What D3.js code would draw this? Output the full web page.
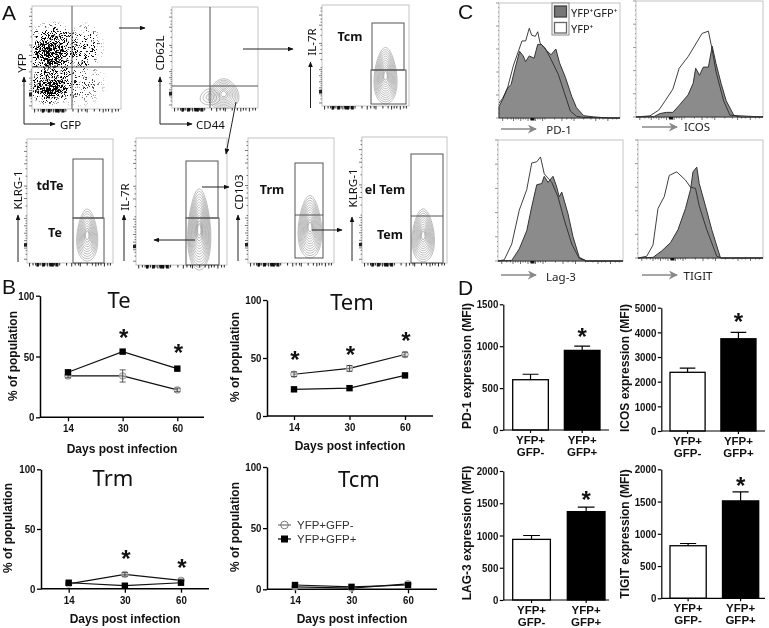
<!DOCTYPE html>
<html><head><meta charset="utf-8">
<script src="https://cdn.jsdelivr.net/npm/d3@7/dist/d3.min.js"></script>
<style>html,body{margin:0;padding:0;background:#fff}svg{display:block;filter:blur(0.35px)}</style>
</head><body><div id="c"></div>
<script>
// ---------- data ----------
const days = ["14","30","60"];
const groupsB = ["YFP+GFP-","YFP+GFP+"];
const teNeg=[34,34,22.5], tePos=[37,54,40], teNegErr=[1.5,5,1.5], tePosErr=[1,1,1], teStars=[[ "30",68],["60",55]];
const temNeg=[36,41,53], temPos=[23,24,35], temNegErr=[2,2.5,2], temPosErr=[1,1,1], temStars=[["14",51],["30",55],["60",67]];
const trmNeg=[4,12,7], trmPos=[5,2.5,5], trmNegErr=[1,1.5,1], trmPosErr=[1,1,1], trmStars=[["30",27],["60",20]];
const tcmNeg=[2,1,4.5], tcmPos=[3.5,2,3.5], tcmNegErr=[.5,.5,.5], tcmPosErr=[.5,.5,.5];
const barCats=["neg","pos"];
const pd1Vals=[600,950], pd1Err=[665,1000], pd1Star=1142;
const icosVals=[2380,3740], icosErr=[2550,4000], icosStar=4530;
const lag3Vals=[940,1370], lag3Err=[1000,1440], lag3Star=1602;
const tigitVals=[815,1510], tigitErr=[850,1650], tigitStar=1792;
const pd1Filled=[[0,10],[3,16],[7,26],[10,29],[13,42],[17,58],[20,54],[22,49],[25,54],[29,52],[32,64],[35,64],[39,59],[43,55],[47,60],[50,48],[55,35],[60,19],[64,9],[70,2],[78,1],[90,0],[100,0]];
const pd1Open=[[0,13],[3,17],[7,26],[12,46],[16,58],[19,67],[22,67],[25,78],[27,72],[30,71],[32,75],[34,65],[38,61],[43,51],[49,38],[54,22],[59,6],[64,1.5],[70,.5],[100,0]];
const icosFilled=[[0,0],[14,.3],[19,3],[24,4],[29,4],[34,10],[41,19],[45,29],[47,42],[50,36],[53,43],[57,43],[60,61],[63,46],[67,29],[71,14],[77,1.5],[82,0],[100,0]];
const icosOpen=[[0,0],[11,1],[18,6],[23,14],[29,24],[34,42],[41,52],[46,61],[52,72],[57,74],[60,58],[63,39],[69,14],[74,1.5],[100,0]];
const lagFilled=[[0,0],[11,.5],[17,10],[23,25],[27,45],[31,63],[35,64],[37,70],[40,65],[44,70],[47,61],[49,53],[51,57],[56,39],[60,20],[65,3],[71,0],[100,0]];
const lagOpen=[[0,0],[5,1],[11,14],[17,42],[23,59],[27,81],[31,82],[34,86],[37,72],[43,65],[48,53],[53,34],[59,14],[65,2],[71,0],[100,0]];
const tigitFilled=[[0,0],[12,.5],[19,6],[26,13],[32,24],[38,42],[42,58],[44,73],[47,77],[49,63],[54,44],[59,24],[66,0],[100,0]];
const tigitOpen=[[0,0],[7,1.5],[12,11],[16,42],[21,52],[25,70],[31,73],[38,66],[42,60],[46,59],[49,44],[55,24],[63,1.5],[67,0],[100,0]];
// flow: population centres in % of each axis [cx, cy, rx, ry, levels]
const cd44Pop=[[60,14,17.5,15,9],[44,11,11,8,3]];
const tcmPop=[[73,30,13,28,12]];
const tePop=[[70,22.5,12,21,10]];
const il7Pop=[[69.5,28,12.5,32,14]];
const trmPop=[[72,29,13.5,25,12]];
const emPop=[[72,22,13,21,11]];
const dotClouds=[[22,56,34,30,.62],[20,54,18,17,.5],[20,21,26,18,.72],[22,20,14,10,.5],[60,60,22,25,.3],[52,25,34,25,.2]];
const tickFracs=[.03,.07,.1,.12,.14,.16,.18,.2,.22,.24,.26,.28,.3,.32,.34,.36,.38,.46,.52,.56,.6,.62,.7,.76,.8,.83,.86,.9,.94,.97];
const tickBlocks=[.11,.18,.26,.33];
// ---------- layout ----------
const W=769,H=628;
const svg=d3.select("#c").append("svg").attr("width",W).attr("height",H).attr("viewBox",`0 0 ${W} ${H}`);
const defs=svg.append("defs");
const sansB="'Liberation Sans',Arial,sans-serif", note="'Noto Sans',sans-serif";
const mk=defs.append("marker").attr("id","ah").attr("viewBox","0 0 10 10").attr("refX",9).attr("refY",5).attr("markerWidth",6).attr("markerHeight",5).attr("markerUnits","userSpaceOnUse").attr("preserveAspectRatio","none").attr("orient","auto");
mk.append("path").attr("d","M0,0L10,5L0,10Z").attr("fill","#111");
const mg=defs.append("marker").attr("id","ag").attr("viewBox","0 0 10 10").attr("refX",9).attr("refY",5).attr("markerWidth",9).attr("markerHeight",9).attr("markerUnits","userSpaceOnUse").attr("orient","auto");
mg.append("path").attr("d","M0,0L10,5L0,10L3,5Z").attr("fill","#888");
const rg=defs.append("radialGradient").attr("id","cloud");
rg.append("stop").attr("offset","0%").attr("stop-color","#000").attr("stop-opacity",1);
rg.append("stop").attr("offset","50%").attr("stop-color","#000").attr("stop-opacity",.7);
rg.append("stop").attr("offset","100%").attr("stop-color","#000").attr("stop-opacity",0);
const sp=defs.append("filter").attr("id","speck").attr("x","0").attr("y","0").attr("width","1").attr("height","1").attr("color-interpolation-filters","sRGB");
sp.append("feTurbulence").attr("type","fractalNoise").attr("baseFrequency",1.9).attr("numOctaves",1).attr("seed",4).attr("result","n");
sp.append("feColorMatrix").attr("in","n").attr("type","matrix").attr("values","0 0 0 0 0 0 0 0 0 0 0 0 0 0 0 3.5 0 0 0 -1.25").attr("result","m");
sp.append("feComposite").attr("in","SourceAlpha").attr("in2","m").attr("operator","arithmetic").attr("k1",0).attr("k2",1).attr("k3",1).attr("k4",-1).attr("result","s");
sp.append("feColorMatrix").attr("in","s").attr("type","matrix").attr("values","0 0 0 0 0 0 0 0 0 0 0 0 0 0 0 0 0 0 5 0");
function txt(x,y,s,o={}){const t=svg.append("text").attr("x",x).attr("y",y).attr("dominant-baseline","central").attr("text-anchor",o.a||"middle").attr("font-family",o.f||note).attr("font-size",o.s||12).attr("font-weight",o.w||"normal").attr("fill",o.c||"#111").text(s);if(o.r)t.attr("transform",`rotate(-90 ${x} ${y})`);return t;}
function arrow(pts,gray){svg.append("path").attr("d",d3.line()(pts)).attr("fill","none").attr("stroke",gray?"#888":"#222").attr("stroke-width",gray?1.4:1).attr("marker-end",`url(#${gray?"ag":"ah"})`);}
[["A",2,12],["B",2,286],["C",458,11],["D",458,287]].forEach(d=>txt(d[1],d[2],d[0],{a:"start",f:sansB,s:21}));
// ---------- A: flow plots ----------
const flow=[
 {box:[32,121,6,109],gv:[72],gh:[67],rects:[]},
 {box:[172,258,7,108],gv:[210],gh:[86],rects:[],pop:cd44Pop},
 {box:[322,409,5,106],rects:[[372,404,23,70],[371,406,70,104]],pop:tcmPop},
 {box:[27,113,139,263],rects:[[73,103,159,218],[73,104,218,263]],pop:tePop},
 {box:[136,227,138,265],rects:[[186,218,161,218],[186,219,218,265]],pop:il7Pop},
 {box:[248,334,138,263],rects:[[295,323,163,258]],gDiv:[295,323,215],pop:trmPop},
 {box:[362,447,137,263],rects:[[411,443,154,263]],gDiv:[411,443,216],pop:emPop}
];
const eggLine=d3.line().curve(d3.curveCardinalClosed.tension(.3));
flow.forEach((p,pi)=>{
 const [x0,x1,y0,y1]=p.box;
 const sx=d3.scaleLinear([0,100],[x0,x1]), sy=d3.scaleLinear([0,100],[y1,y0]);
 const g=svg.append("g");
 g.append("rect").attr("x",x0).attr("y",y0).attr("width",x1-x0).attr("height",y1-y0).attr("fill","#fff").attr("stroke","#c4c4c4").attr("stroke-width",1);
 if(pi===0){
  defs.append("clipPath").attr("id","fc").append("rect").attr("x",x0+1).attr("y",y0+1).attr("width",x1-x0-2).attr("height",y1-y0-2);
  const cg=g.append("g").attr("clip-path","url(#fc)").append("g").attr("filter","url(#speck)");
  dotClouds.forEach(c=>cg.append("ellipse").attr("cx",sx(c[0])).attr("cy",sy(c[1])).attr("rx",sx(c[2])-sx(0)).attr("ry",sy(0)-sy(c[3])).attr("fill","url(#cloud)").attr("opacity",c[4]));
 }
 (p.pop||[]).forEach(c=>{
  for(let i=0;i<c[4];i++){
   const k=1-(i/c[4])*.92;
   const pts=d3.range(0,24).map(j=>{const a=j/24*2*Math.PI;const s=Math.sin(a);
     return [sx(c[0]+c[2]*k*Math.cos(a)*(1-.22*s)),sy(c[1]+c[3]*k*s)];});
   g.append("path").attr("d",eggLine(pts)).attr("fill","none").attr("stroke",i>c[4]*.75?"#888":"#a0a0a0").attr("stroke-width",.7);
  }
 });
 (p.gv||[]).forEach(x=>g.append("line").attr("x1",x).attr("x2",x).attr("y1",y0).attr("y2",y1).attr("stroke","#555").attr("stroke-width",1));
 (p.gh||[]).forEach(y=>g.append("line").attr("x1",x0).attr("x2",x1).attr("y1",y).attr("y2",y).attr("stroke","#555").attr("stroke-width",1));
 p.rects.forEach(r=>g.append("rect").attr("x",r[0]).attr("y",r[2]).attr("width",r[1]-r[0]).attr("height",r[3]-r[2]).attr("fill","none").attr("stroke","#555").attr("stroke-width",1));
 if(p.gDiv)g.append("line").attr("x1",p.gDiv[0]).attr("x2",p.gDiv[1]).attr("y1",p.gDiv[2]).attr("y2",p.gDiv[2]).attr("stroke","#555");
 tickFracs.forEach((f,i)=>{
  const major=i%3===0;
  g.append("line").attr("x1",sx(f*100)).attr("x2",sx(f*100)).attr("y1",y1).attr("y2",y1+(major?3.5:2.5)).attr("stroke","#111").attr("stroke-width",.9);
  g.append("line").attr("y1",sy(f*100)).attr("y2",sy(f*100)).attr("x1",x0).attr("x2",x0-(major?3:1.5)).attr("stroke","#444").attr("stroke-width",.7);
 });
 tickBlocks.forEach(f=>g.append("rect").attr("x",sx(f*100)).attr("y",y1).attr("width",f===.26?4.5:2.5).attr("height",3.5).attr("fill","#111"));
 g.append("rect").attr("x",x0-3).attr("y",sy(16)).attr("width",3).attr("height",3.5).attr("fill","#222");
});
const fs=11.5;
arrow([[24,124],[24,77]]);arrow([[24,124],[55,124]]);
txt(21,63,"YFP",{r:1,s:fs});txt(60,124,"GFP",{a:"start",s:fs});
arrow([[160,124],[160,77]]);arrow([[160,124],[192,124]]);
txt(159,53,"CD62L",{r:1,s:fs});txt(196,124,"CD44",{a:"start",s:fs});
arrow([[310.5,108],[310.5,62]]);txt(311,42,"IL-7R",{r:1,s:fs});
arrow([[18,262],[18,215]]);txt(17,190,"KLRG-1",{r:1,s:fs});
arrow([[124,261],[124,215]]);txt(124,197,"IL-7R",{r:1,s:fs});
arrow([[238,261],[238,215]]);txt(238,192,"CD103",{r:1,s:fs});
arrow([[352,261],[352,217]]);txt(352,188,"KLRG-1",{r:1,s:fs});
arrow([[119,28],[145,28]]);arrow([[243,49],[293,49]]);arrow([[236,102],[226,154]]);
arrow([[202,187],[229,187]]);arrow([[195,240],[154,240]]);arrow([[312,230],[342,230]]);
[["Tcm",350,36],["tdTe",50,185],["Te",55,232],["Trm",272,189],["el Tem",385,189],["Tem",390,234]].forEach(d=>txt(d[1],d[2],d[0],{w:"bold",s:12.5}));
// ---------- C: histograms ----------
const hists=[
 {box:[499,620,3,118],f:pd1Filled,o:pd1Open,lab:"PD-1",ax:[501,536,129],tx:559,ty:129},
 {box:[636,763,1,117],f:icosFilled,o:icosOpen,lab:"ICOS",ax:[642,677,127],tx:697,ty:126},
 {box:[498,623,140,261],f:lagFilled,o:lagOpen,lab:"Lag-3",ax:[501,536,275],tx:561,ty:276},
 {box:[638,763,140,258],f:tigitFilled,o:tigitOpen,lab:"TIGIT",ax:[642,677,275],tx:698,ty:275}
];
hists.forEach(h=>{
 const [x0,x1,y0,y1]=h.box;
 const sx=d3.scaleLinear([0,100],[x0,x1]), sy=d3.scaleLinear([0,100],[y1,y0]);
 const g=svg.append("g");
 g.append("rect").attr("x",x0).attr("y",y0).attr("width",x1-x0).attr("height",y1-y0).attr("fill","#fff").attr("stroke","#c4c4c4");
 const area=d3.area().x(d=>sx(d[0])).y0(y1).y1(d=>sy(d[1]));
 const line=d3.line().x(d=>sx(d[0])).y(d=>sy(d[1]));
 g.append("path").attr("d",area(h.f)).attr("fill","#8b8b8b").attr("stroke","#333").attr("stroke-width",1);
 g.append("path").attr("d",line(h.o)).attr("fill","none").attr("stroke","#2a2a2a").attr("stroke-width",.9);
 tickFracs.forEach((f,i)=>{
  g.append("line").attr("x1",sx(f*100)).attr("x2",sx(f*100)).attr("y1",y1).attr("y2",y1+(i%3?1.5:3)).attr("stroke","#333").attr("stroke-width",.7);
 });
 g.append("rect").attr("x",sx(26)).attr("y",y1).attr("width",4).attr("height",2.5).attr("fill","#111");
 d3.range(0,101,4).forEach((f,i)=>g.append("line").attr("x1",x0).attr("x2",x0-(i%5?1:3)).attr("y1",sy(f)).attr("y2",sy(f)).attr("stroke","#555").attr("stroke-width",.6));
 arrow([[h.ax[0],h.ax[2]],[h.ax[1],h.ax[2]]],true);
 txt(h.tx,h.ty,h.lab,{s:fs,c:"#222"});
});
svg.append("rect").attr("x",552).attr("y",3).attr("width",17).attr("height",32).attr("fill","#fff").attr("stroke","#888");
svg.append("rect").attr("x",554.5).attr("y",6).attr("width",12).attr("height",11).attr("fill","#777").attr("stroke","#444").attr("stroke-width",1.3);
svg.append("rect").attr("x",554.5).attr("y",22.5).attr("width",12).attr("height",10.5).attr("fill","#fff").attr("stroke","#666").attr("stroke-width",1.3);
txt(571,12,"YFP⁺GFP⁺",{a:"start",s:11,c:"#222"});txt(571,28,"YFP⁺",{a:"start",s:11,c:"#222"});
// ---------- B: line charts ----------
const squeeze=sel=>sel.each(function(){const n=this.textContent.length;if(n)d3.select(this).attr("textLength",n*5.4).attr("lengthAdjust","spacingAndGlyphs");});
function lineChart(o){
 const x=d3.scalePoint().domain(days).range(o.xr);
 const y=d3.scaleLinear([0,100],o.yr);
 const g=svg.append("g");
 const style=a=>{a.select(".domain").attr("stroke","#000").attr("stroke-width",1.5);a.selectAll(".tick line").attr("stroke","#000").attr("stroke-width",1.3);a.selectAll("text").attr("font-family",sansB).attr("font-weight","bold").attr("font-size",11.5).attr("fill","#111").call(squeeze);};
 const ay=g.append("g").attr("transform",`translate(${o.ax},0)`).call(d3.axisLeft(y).tickValues([0,50,100]).tickSize(4).tickSizeOuter(0).tickPadding(1.5));style(ay);
 const ax=g.append("g").attr("transform",`translate(0,${o.yr[0]})`).call(d3.axisBottom(x).tickSize(4).tickSizeOuter(0).tickPadding(3));style(ax);
 ax.select(".domain").attr("d",`M${o.ax},0H${o.xEnd}`);
 const ln=d3.line().x((d,i)=>x(days[i])).y(d=>y(d));
 [o.neg,o.pos].forEach(v=>g.append("path").attr("d",ln(v)).attr("fill","none").attr("stroke","#111").attr("stroke-width",1.2));
 o.neg.forEach((v,i)=>{
  const X=x(days[i]);
  g.append("circle").attr("cx",X).attr("cy",y(v)).attr("r",3.3).attr("fill","#cfcfcf").attr("fill-opacity",.6).attr("stroke","#999").attr("stroke-width",1);
  g.append("path").attr("d",`M${X-3},${y(v+o.negE[i])}H${X+3}M${X},${y(v+o.negE[i])}V${y(v-o.negE[i])}M${X-3},${y(v-o.negE[i])}H${X+3}`).attr("fill","none").attr("stroke","#333").attr("stroke-width",.8);
 });
 o.pos.forEach((v,i)=>{
  const X=x(days[i]);
  g.append("rect").attr("x",X-3.2).attr("y",y(v)-3.2).attr("width",6.4).attr("height",6.4).attr("fill","#000");
 });
 (o.stars||[]).forEach(s=>txt(x(s[0])+1,y(s[1])+2.5,"*",{f:sansB,s:24,w:"bold"}));
 txt(o.tx,o.ty,o.title,{s:22,c:"#111"});
 txt(o.xlx,o.xly,"Days post infection",{f:sansB,w:"bold",s:12});
 txt(o.ylx,o.yly,"% of population",{f:sansB,w:"bold",s:12,r:1});
}
lineChart({title:"Te",xr:[68,177.3],yr:[417.3,295.7],ax:40,xEnd:204,neg:teNeg,pos:tePos,negE:teNegErr,posE:tePosErr,stars:teStars,tx:119,ty:299,xlx:122,xly:449,ylx:13,yly:356});
lineChart({title:"Tem",xr:[294,405],yr:[416,300],ax:267,xEnd:433,neg:temNeg,pos:temPos,negE:temNegErr,posE:temPosErr,stars:temStars,tx:352,ty:301,xlx:350,xly:445.5,ylx:235,yly:357});
lineChart({title:"Trm",xr:[68.7,181],yr:[588.7,469.3],ax:41,xEnd:209,neg:trmNeg,pos:trmPos,negE:trmNegErr,posE:trmPosErr,stars:trmStars,tx:113,ty:477,xlx:125,xly:619,ylx:8,yly:528});
lineChart({title:"Tcm",xr:[295,408],yr:[589.3,467],ax:267,xEnd:437,neg:tcmNeg,pos:tcmPos,negE:tcmNegErr,posE:tcmPosErr,tx:359,ty:478,xlx:352,xly:619,ylx:235,yly:527});
svg.append("line").attr("x1",278).attr("x2",291).attr("y1",525).attr("y2",525).attr("stroke","#555");
svg.append("circle").attr("cx",284.5).attr("cy",525).attr("r",3.8).attr("fill","none").attr("stroke","#777");
svg.append("line").attr("x1",278).attr("x2",291).attr("y1",539).attr("y2",539).attr("stroke","#000").attr("stroke-width",1.2);
svg.append("rect").attr("x",281).attr("y",535.5).attr("width",7).attr("height",7).attr("fill","#000");
txt(297,525,groupsB[0],{a:"start",f:sansB,s:11.5,c:"#333"});txt(297,539,groupsB[1],{a:"start",f:sansB,s:11.5,c:"#333"});
// ---------- D: bars ----------
function barChart(o){
 const x=d3.scaleBand().domain(barCats).range(o.xr).paddingInner(.31);
 const y=d3.scaleLinear([0,o.max],o.yr);
 const g=svg.append("g");
 const style=a=>{a.select(".domain").attr("stroke","#000").attr("stroke-width",1.2);a.selectAll(".tick line").attr("stroke","#000").attr("stroke-width",1.2);a.selectAll("text").attr("font-family",sansB).attr("font-weight","bold").attr("font-size",11.5).attr("fill","#111").call(squeeze);};
 o.vals.forEach((v,i)=>{
  const c=barCats[i],X=x(c)+x.bandwidth()/2,bw=x.bandwidth();
  g.append("path").attr("d",`M${X},${y(v)}V${y(o.err[i])}M${X-bw/4.5},${y(o.err[i])}H${X+bw/4.5}`).attr("stroke","#000").attr("stroke-width",1.2).attr("fill","none");
  g.append("rect").attr("x",x(c)).attr("y",y(v)).attr("width",bw).attr("height",y(0)-y(v)).attr("fill",i?"#000":"#fff").attr("stroke","#000").attr("stroke-width",1.3);
 });
 const ay=g.append("g").attr("transform",`translate(${o.ax},0)`).call(d3.axisLeft(y).tickValues(o.ticks).tickFormat(d3.format("d")).tickSize(3.5).tickSizeOuter(0).tickPadding(1.5));style(ay);
 const ax=g.append("g").attr("transform",`translate(0,${o.yr[0]})`).call(d3.axisBottom(x).tickSize(3).tickSizeOuter(0).tickFormat(""));style(ax);
 ax.select(".domain").attr("d",`M${o.ax},0H${o.xEnd}`);
 barCats.forEach((c,i)=>{const X=x(c)+x.bandwidth()/2;
  txt(X,o.yr[0]+9.7,"YFP+",{f:sansB,w:"bold",s:11.5});
  txt(X,o.yr[0]+22,i?"GFP+":"GFP-",{f:sansB,w:"bold",s:11.5});
 });
 txt(x("pos")+x.bandwidth()/2,y(o.star)+2.5,"*",{f:sansB,s:24,w:"bold"});
 txt(o.ylx,o.yly,o.label,{f:sansB,w:"bold",s:12,r:1});
}
barChart({xr:[512.7,600],yr:[430,304.3],max:1500,ax:503.3,xEnd:609,vals:pd1Vals,err:pd1Err,star:pd1Star,ticks:[0,500,1000,1500],ylx:467,yly:366,label:"PD-1 expression (MFI)"});
barChart({xr:[670,756],yr:[431,307.7],max:5000,ax:661.3,xEnd:765,vals:icosVals,err:icosErr,star:icosStar,ticks:[0,1000,2000,3000,4000,5000],ylx:625,yly:368,label:"ICOS expression (MFI)"});
barChart({xr:[512.7,605],yr:[600,471],max:2000,ax:503.3,xEnd:609,vals:lag3Vals,err:lag3Err,star:lag3Star,ticks:[0,500,1000,1500,2000],ylx:467,yly:533,label:"LAG-3 expression (MFI)"});
barChart({xr:[670,758.7],yr:[598.3,469.3],max:2000,ax:661.3,xEnd:765,vals:tigitVals,err:tigitErr,star:tigitStar,ticks:[0,500,1000,1500,2000],ylx:625,yly:534,label:"TIGIT expression (MFI)"});
</script></body></html>
